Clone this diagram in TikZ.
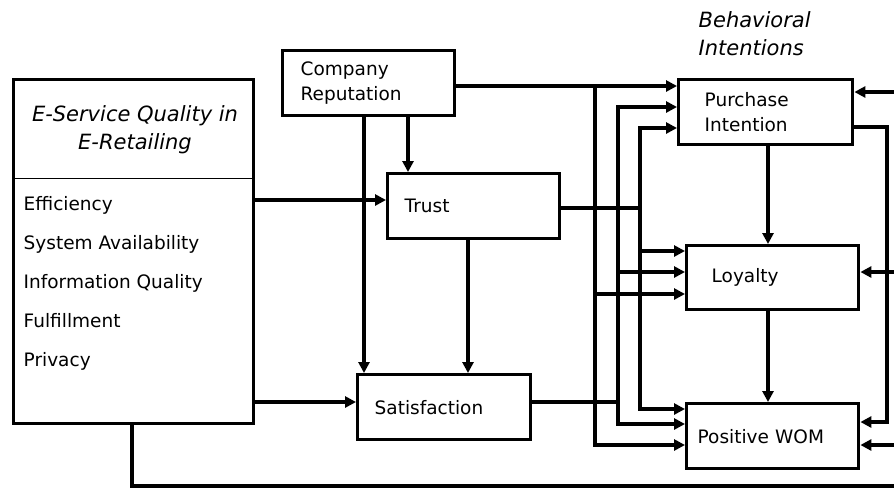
\documentclass[tikz,border=0pt]{standalone}
\usepackage{fontspec}
\setmainfont{DejaVu Sans}
\usetikzlibrary{arrows.meta}

\begin{document}
\begin{tikzpicture}[x=1pt,y=-1pt,line width=3.4pt,
  font=\fontsize{18.5}{25}\selectfont,
  box/.style={draw,anchor=north west,align=left,minimum height=65pt,inner ysep=0pt},
  arr/.style={-{Triangle[length=11pt,width=11pt]}},
  headline/.style={font=\fontsize{21}{28}\selectfont\itshape,inner sep=0pt}]
  \useasboundingbox (0,0) rectangle (894,488);
  \coordinate (rim) at (894,0);

  % e-service quality block
  \node[draw,anchor=north west,minimum width=240pt,minimum height=344pt] (esq) at (12,78) {};
  \node[headline,align=center] (esqtitle) at (135,130) {E-Service Quality in\\E-Retailing};
  \draw[line width=1pt] (esq.west |- 0,178) -- (esq.east |- 0,178);
  \foreach \lbl [count=\i] in {Efficiency,System Availability,Information Quality,Fulfillment,Privacy}
    \node[anchor=base west,inner sep=0pt] (item\i) at (22,{171+39*\i}) {\lbl};

  % middle boxes
  \node[box,text width=136pt,inner xsep=18pt] (rep) at (281,49) {Company\\Reputation};
  \node[box,text width=138pt,inner xsep=17pt] (trust) at (386,172) {Trust};
  \node[box,text width=139pt,inner xsep=17pt] (sat) at (356,373) {Satisfaction};

  % behavioral intentions
  \node[headline,align=left,anchor=north west] (bi) at (697,10) {Behavioral\\Intentions};
  \node[box,text width=122pt,inner xsep=26pt] (pi) at (677,78) {Purchase\\Intention};
  \node[box,text width=122pt,inner xsep=25pt,minimum height=64pt] (loy) at (685,244) {Loyalty};
  \node[box,text width=150pt,inner xsep=11pt] (wom) at (685,402) {Positive WOM};

  % into trust and satisfaction
  \draw[arr] (esq.east |- 0,200) -- (trust.west |- 0,200);
  \draw[arr] (esq.east |- 0,402) -- (sat.west |- 0,402);
  \draw[arr] (rep.south -| 408,0) -- (trust.north -| 408,0);
  \draw[arr] (rep.south -| 364,0) -- (sat.north -| 364,0);
  \draw[arr] (trust.south -| 468,0) -- (sat.north -| 468,0);

  % reputation -> intentions
  \draw[arr] (rep.east |- 0,86) -- (pi.west |- 0,86);
  \draw[arr] (595,86) |- (loy.west |- 0,294);
  \draw[arr] (595,86) |- (wom.west |- 0,445);

  % trust -> intentions
  \draw[arr] (trust.east |- 0,208) -| (640,128) -- (pi.west |- 0,128);
  \draw[arr] (trust.east |- 0,208) -| (640,251) -- (loy.west |- 0,251);
  \draw[arr] (trust.east |- 0,208) -| (640,409) -- (wom.west |- 0,409);

  % satisfaction -> intentions
  \draw[arr] (sat.east |- 0,402) -| (618,107) -- (pi.west |- 0,107);
  \draw[arr] (sat.east |- 0,402) -| (618,272) -- (loy.west |- 0,272);
  \draw[arr] (sat.east |- 0,402) -| (618,424) -- (wom.west |- 0,424);

  % among intentions
  \draw[arr] (pi.south -| 768,0) -- (loy.north -| 768,0);
  \draw[arr] (loy.south -| 768,0) -- (wom.north -| 768,0);
  \draw[arr] (pi.east |- 0,127) -| (887,422) -- (wom.east |- 0,422);

  % e-service quality loop on the right
  \draw (esq.south -| 132,0) |- (rim |- 0,486);
  \draw[arr] (rim |- 0,92) -- (pi.east |- 0,92);
  \draw[arr] (rim |- 0,272) -- (loy.east |- 0,272);
  \draw[arr] (rim |- 0,445) -- (wom.east |- 0,445);
\end{tikzpicture}
\end{document}
